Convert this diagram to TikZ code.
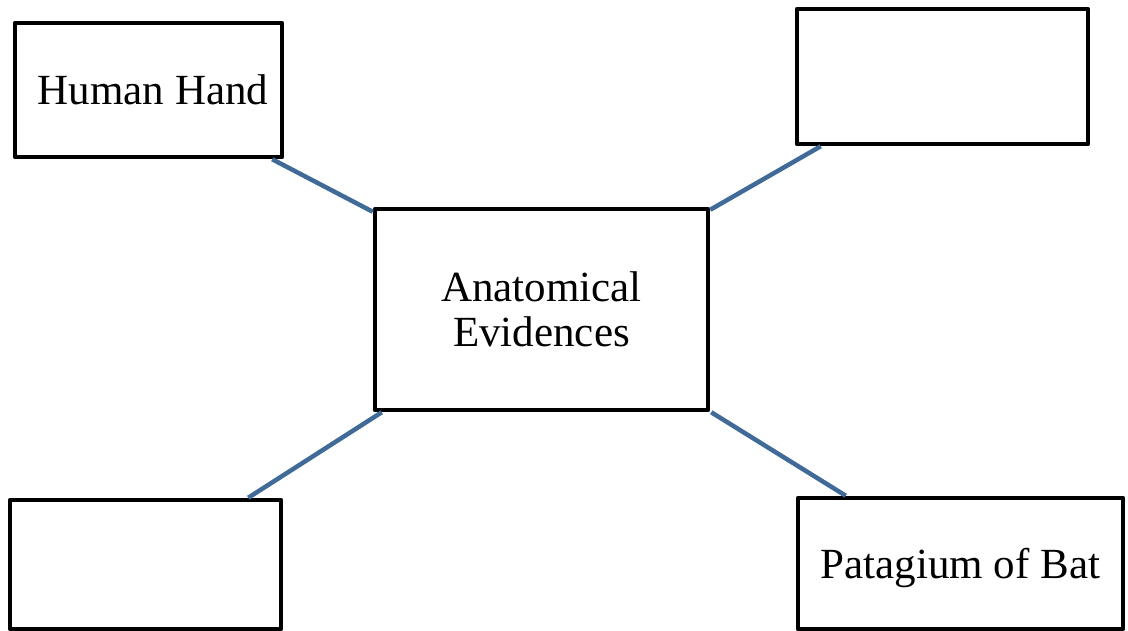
\documentclass[tikz,border=0pt]{standalone}
\usepackage{fontspec}
\setmainfont{Liberation Serif}
\definecolor{linkblue}{RGB}{64,106,152}
\begin{document}
\begin{tikzpicture}[x=1pt,y=-1pt, line join=round, line cap=round,
	box/.style={draw,line width=4.5pt,fill=white,inner sep=0pt,font=\fontsize{43}{45}\selectfont},
	link/.style={linkblue,line width=4.5pt,line cap=butt}]
			\useasboundingbox (0,0) rectangle (1128,631);
			\node[box,minimum width=267pt,minimum height=134pt] (hand) at (148.5,90) {\hspace*{9pt}Human Hand};
			\node[box,minimum width=291pt,minimum height=135pt] (topright) at (942.5,76.5) {};
			\node[box,minimum width=333pt,minimum height=201pt,align=center] (mid) at (541.5,309.5) {Anatomical\\Evidences};
			\node[box,minimum width=271pt,minimum height=129pt] (botleft) at (145.5,564.5) {};
			\node[box,minimum width=325pt,minimum height=131pt,text depth=0pt] (bat) at (960.5,563.5) {Patagium of Bat};
			\draw[link]([xshift=-12pt]hand.south east)--([yshift=-5pt]mid.north west);
			\draw[link]([yshift=-3pt]mid.north east)--([xshift=26pt]topright.south west);
			\draw[link]([xshift=9pt]mid.south west)--([xshift=-35pt]botleft.north east);
			\draw[link]([xshift=1pt]mid.south east)--([xshift=50pt]bat.north west);
			\end{tikzpicture}
\end{document}
